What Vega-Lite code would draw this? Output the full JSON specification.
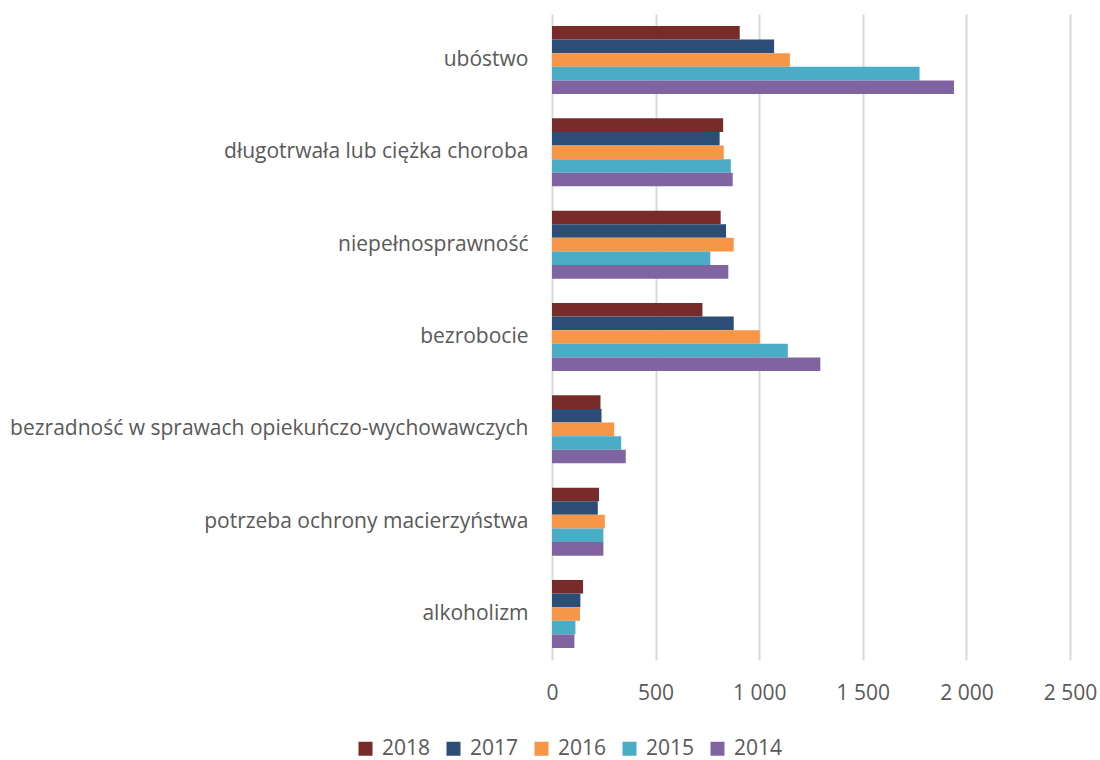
{
  "$schema": "https://vega.github.io/schema/vega-lite/v6.json",
  "autosize": {"type": "none"},
  "padding": {"left": 552, "top": 14, "right": 30, "bottom": 100},
  "width": 518,
  "height": 646,
  "background": "white",
  "data": {"values": [
    {"category": "ubóstwo", "year": "2018", "value": 906},
    {"category": "ubóstwo", "year": "2017", "value": 1072},
    {"category": "ubóstwo", "year": "2016", "value": 1148},
    {"category": "ubóstwo", "year": "2015", "value": 1774},
    {"category": "ubóstwo", "year": "2014", "value": 1940},
    {"category": "długotrwała lub ciężka choroba", "year": "2018", "value": 826},
    {"category": "długotrwała lub ciężka choroba", "year": "2017", "value": 809},
    {"category": "długotrwała lub ciężka choroba", "year": "2016", "value": 829},
    {"category": "długotrwała lub ciężka choroba", "year": "2015", "value": 863},
    {"category": "długotrwała lub ciężka choroba", "year": "2014", "value": 872},
    {"category": "niepełnosprawność", "year": "2018", "value": 814},
    {"category": "niepełnosprawność", "year": "2017", "value": 840},
    {"category": "niepełnosprawność", "year": "2016", "value": 877},
    {"category": "niepełnosprawność", "year": "2015", "value": 764},
    {"category": "niepełnosprawność", "year": "2014", "value": 851},
    {"category": "bezrobocie", "year": "2018", "value": 726},
    {"category": "bezrobocie", "year": "2017", "value": 877},
    {"category": "bezrobocie", "year": "2016", "value": 1003},
    {"category": "bezrobocie", "year": "2015", "value": 1138},
    {"category": "bezrobocie", "year": "2014", "value": 1295},
    {"category": "bezradność w sprawach opiekuńczo-wychowawczych", "year": "2018", "value": 234},
    {"category": "bezradność w sprawach opiekuńczo-wychowawczych", "year": "2017", "value": 239},
    {"category": "bezradność w sprawach opiekuńczo-wychowawczych", "year": "2016", "value": 300},
    {"category": "bezradność w sprawach opiekuńczo-wychowawczych", "year": "2015", "value": 334},
    {"category": "bezradność w sprawach opiekuńczo-wychowawczych", "year": "2014", "value": 356},
    {"category": "potrzeba ochrony macierzyństwa", "year": "2018", "value": 227},
    {"category": "potrzeba ochrony macierzyństwa", "year": "2017", "value": 221},
    {"category": "potrzeba ochrony macierzyństwa", "year": "2016", "value": 255},
    {"category": "potrzeba ochrony macierzyństwa", "year": "2015", "value": 248},
    {"category": "potrzeba ochrony macierzyństwa", "year": "2014", "value": 248},
    {"category": "alkoholizm", "year": "2018", "value": 150},
    {"category": "alkoholizm", "year": "2017", "value": 137},
    {"category": "alkoholizm", "year": "2016", "value": 135},
    {"category": "alkoholizm", "year": "2015", "value": 113},
    {"category": "alkoholizm", "year": "2014", "value": 108}
  ]},
  "mark": {"type": "bar"},
  "encoding": {
    "y": {
      "field": "category", "type": "nominal", "sort": null,
      "scale": {"paddingInner": 0.263, "paddingOuter": 0.13},
      "axis": {"title": null, "domain": false, "ticks": false, "labelPadding": 24, "labelFontSize": 21, "labelFont": "Open Sans", "labelColor": "#595959", "labelLimit": 600}
    },
    "yOffset": {"field": "year", "type": "nominal", "sort": ["2018", "2017", "2016", "2015", "2014"], "scale": {"paddingInner": 0, "paddingOuter": 0}},
    "x": {
      "field": "value", "type": "quantitative",
      "scale": {"domain": [0, 2500]},
      "axis": {"title": null, "values": [0, 500, 1000, 1500, 2000, 2500], "domain": false, "ticks": false, "grid": true, "gridColor": "#d9d9d9", "gridWidth": 2, "labelPadding": 22, "labelFontSize": 21, "labelFont": "Open Sans", "labelColor": "#595959", "labelExpr": "replace(format(datum.value, ','), ',', ' ')", "labelFlush": false}
    },
    "color": {
      "field": "year", "type": "nominal",
      "scale": {"domain": ["2018", "2017", "2016", "2015", "2014"], "range": ["#772C2A", "#2C4D75", "#F79646", "#4BACC6", "#8064A2"]},
      "legend": {"title": null, "orient": "none", "legendX": -197, "legendY": 724, "direction": "horizontal", "columns": 5, "symbolType": "square", "symbolSize": 196, "symbolStrokeWidth": 0, "labelFontSize": 21, "labelFont": "Open Sans", "labelColor": "#595959", "labelOffset": 6, "columnPadding": 12}
    }
  },
  "config": {"view": {"stroke": null}}
}
